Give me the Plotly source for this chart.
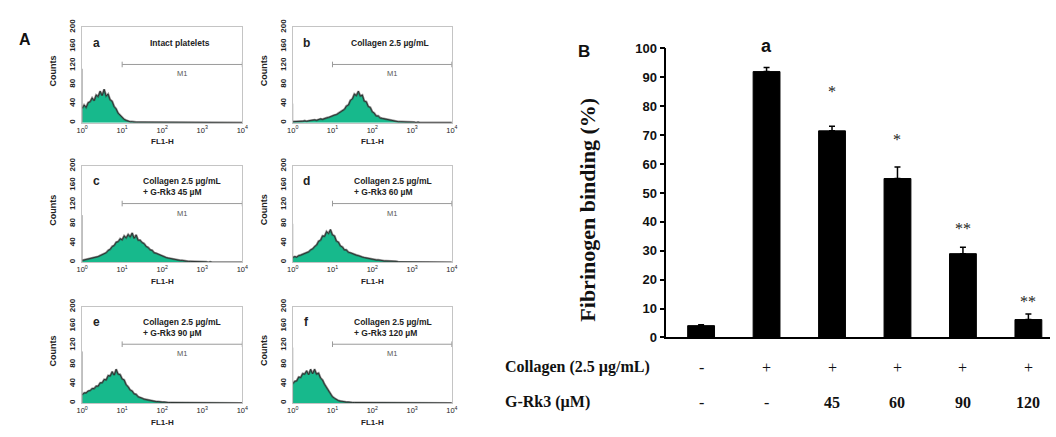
import plotly.graph_objects as go

W, H = 1056, 437

# ---------------- data: flow cytometry histograms (panel A) ----------------
log_channels = [round(i * 0.05, 2) for i in range(81)]  # log10(FL1-H) 0..4

hist_a = [30, 37, 32, 42, 44, 52, 46, 58, 55, 66,
          57, 70, 56, 60, 48, 45, 34, 29, 20, 16,
          10, 7, 5, 3, 2, 2, 1, 1, 1, 1,
          1, 1, 0, 1, 0, 1, 0, 0, 1, 0,
          0, 1, 0, 0, 0, 1, 0, 0, 0, 0,
          1, 0, 0, 0, 0, 0, 1, 0, 0, 0,
          0, 0, 0, 1, 0, 0, 0, 0, 0, 0,
          0, 1, 0, 0, 0, 0, 0, 0, 0, 0, 0]
hist_b = [2, 2, 3, 2, 3, 3, 4, 3, 4, 5,
          5, 6, 5, 7, 8, 7, 9, 10, 11, 13,
          14, 16, 17, 20, 22, 26, 28, 35, 37, 47,
          50, 60, 57, 66, 56, 58, 45, 44, 34, 32,
          23, 20, 14, 14, 10, 9, 8, 7, 6, 5,
          4, 3, 3, 2, 2, 2, 1, 1, 1, 1,
          1, 1, 0, 1, 0, 0, 1, 0, 0, 0,
          0, 0, 1, 0, 0, 0, 0, 0, 0, 0, 0]
hist_c = [4, 5, 6, 6, 7, 8, 9, 10, 12, 14,
          16, 19, 20, 25, 27, 33, 35, 42, 43, 49,
          47, 55, 51, 58, 53, 61, 50, 57, 46, 46,
          41, 39, 33, 31, 26, 25, 20, 19, 17, 15,
          13, 12, 10, 9, 8, 7, 6, 5, 5, 4,
          4, 3, 3, 2, 2, 2, 1, 1, 1, 1,
          1, 1, 1, 0, 1, 0, 0, 1, 0, 0,
          0, 0, 0, 1, 0, 0, 0, 0, 0, 0, 0]
hist_d = [10, 12, 11, 14, 15, 17, 18, 21, 22, 26,
          28, 33, 36, 44, 46, 55, 54, 64, 60, 68,
          57, 55, 44, 42, 34, 32, 26, 26, 21, 20,
          18, 17, 15, 14, 12, 11, 10, 9, 8, 8,
          7, 6, 5, 5, 4, 4, 3, 3, 3, 2,
          2, 2, 2, 1, 1, 1, 1, 1, 1, 0,
          1, 0, 0, 1, 0, 0, 0, 0, 1, 0,
          0, 0, 0, 0, 0, 0, 1, 0, 0, 0, 0]
hist_e = [17, 21, 21, 25, 26, 30, 30, 35, 35, 42,
          42, 49, 48, 57, 56, 65, 58, 70, 60, 59,
          50, 48, 38, 34, 27, 25, 19, 18, 13, 12,
          10, 8, 7, 6, 5, 4, 4, 3, 3, 2,
          2, 2, 1, 1, 1, 1, 1, 1, 0, 1,
          0, 0, 1, 0, 0, 0, 0, 1, 0, 0,
          0, 0, 0, 0, 0, 1, 0, 0, 0, 0,
          0, 0, 0, 0, 0, 0, 0, 0, 0, 0, 0]
hist_f = [40, 45, 46, 54, 53, 61, 60, 67, 59, 70,
          61, 70, 60, 62, 52, 48, 39, 33, 25, 20,
          13, 10, 7, 5, 4, 3, 2, 2, 2, 1,
          1, 1, 1, 1, 0, 1, 0, 1, 0, 0,
          1, 0, 0, 0, 1, 0, 0, 0, 0, 1,
          0, 0, 0, 0, 1, 0, 0, 0, 0, 0,
          1, 0, 0, 0, 0, 0, 0, 1, 0, 0,
          0, 0, 0, 0, 0, 1, 0, 0, 0, 0, 0]
histograms = [hist_a, hist_b, hist_c, hist_d, hist_e, hist_f]
first_channel = [113, 40, 98, 80, 107, 115]

panel_letters = ["a", "b", "c", "d", "e", "f"]
panel_titles = ["Intact platelets",
                "Collagen 2.5 µg/mL",
                "Collagen 2.5 µg/mL<br>+ G-Rk3 45 µM",
                "Collagen 2.5 µg/mL<br>+ G-Rk3 60 µM",
                "Collagen 2.5 µg/mL<br>+ G-Rk3 90 µM",
                "Collagen 2.5 µg/mL<br>+ G-Rk3 120 µM"]
count_ticks = [0, 40, 80, 120, 160, 200]
decade_ticks = [0, 1, 2, 3, 4]
decade_labels = ["10<sup>0</sup>", "10<sup>1</sup>", "10<sup>2</sup>",
                 "10<sup>3</sup>", "10<sup>4</sup>"]
m1_gate = [1.0, 4.0]
m1_level = 122

# ---------------- data: fibrinogen binding (panel B) ----------------
conditions = ["control", "collagen", "G-Rk3 45", "G-Rk3 60", "G-Rk3 90", "G-Rk3 120"]
binding = [4.1, 92.0, 71.5, 55.0, 29.0, 6.2]
binding_err = [0.3, 1.4, 1.6, 4.0, 2.2, 1.9]
significance = ["", "a", "*", "*", "**", "**"]
collagen_signs = ["-", "+", "+", "+", "+", "+"]
grk3_doses = ["-", "-", "45", "60", "90", "120"]
binding_ticks = [0, 10, 20, 30, 40, 50, 60, 70, 80, 90, 100]

# ---------------- layout helpers ----------------
SANS = "Liberation Sans, Arial, sans-serif"
SERIF = "Liberation Serif, Times New Roman, serif"
GREEN = "#17b98c"

cols_px = [(77, 239), (290, 451)]
rows_px = [(20, 119), (164, 264), (310, 410)]


def px_x(x):
    return x / W


def px_y(y):
    return 1 - y / H


def paper_note(xp, yp, text, font, **kw):
    d = dict(xref="paper", yref="paper", x=px_x(xp), y=px_y(yp), text=text,
             showarrow=False, xanchor="center", yanchor="middle", font=font)
    d.update(kw)
    return d


fig = go.Figure()
layout = dict(
    width=W, height=H, margin=dict(l=0, r=0, t=0, b=0),
    paper_bgcolor="white", plot_bgcolor="white", showlegend=False,
)
annotations = []

for i in range(6):
    r, c = divmod(i, 2)
    x0, x1 = cols_px[c]
    y0, y1 = rows_px[r]
    n = i + 1
    xa = "x" if n == 1 else f"x{n}"
    ya = "y" if n == 1 else f"y{n}"
    xkey = "xaxis" if n == 1 else f"xaxis{n}"
    ykey = "yaxis" if n == 1 else f"yaxis{n}"

    layout[xkey] = dict(
        domain=[px_x(x0), px_x(x1)], range=[0, 4], anchor=ya,
        showline=True, mirror=True, linecolor="#c4c4c4", linewidth=1,
        showgrid=False, zeroline=False, ticks="",
        tickvals=decade_ticks, ticktext=decade_labels,
        tickfont=dict(family=SANS, size=7.5, color="#222"),
    )
    layout[ykey] = dict(
        domain=[px_y(y1), px_y(y0)], range=[0, 200], anchor=xa,
        showline=True, mirror=True, linecolor="#c4c4c4", linewidth=1,
        showgrid=False, zeroline=False, ticks="",
        tickvals=count_ticks, ticktext=[f"<b>{v}</b>" for v in count_ticks],
        tickangle=-90, ticklabelstandoff=3,
        tickfont=dict(family=SANS, size=8, color="#222"),
    )

    fig.add_trace(go.Scatter(
        x=log_channels, y=histograms[i], xaxis=xa, yaxis=ya,
        mode="lines", fill="tozeroy", fillcolor=GREEN,
        line=dict(color="rgba(60,60,60,0.55)", width=2.2),
        hoverinfo="skip",
    ))
    fig.add_trace(go.Scatter(
        x=log_channels, y=histograms[i], xaxis=xa, yaxis=ya,
        mode="lines", line=dict(color="#222", width=0.8), hoverinfo="skip",
    ))
    fig.add_trace(go.Scatter(
        x=[0, 0], y=[0, first_channel[i]], xaxis=xa, yaxis=ya,
        mode="lines", line=dict(color="#8a8a8a", width=1), hoverinfo="skip",
    ))
    fig.add_trace(go.Scatter(
        x=m1_gate, y=[m1_level, m1_level], xaxis=xa, yaxis=ya,
        mode="lines+markers", line=dict(color="#9a9a9a", width=1),
        marker=dict(symbol="line-ns", size=4, line=dict(color="#9a9a9a", width=1)),
        cliponaxis=False, hoverinfo="skip",
    ))

    annotations.append(dict(xref=xa, yref=ya, x=2.5, y=102, text="M1",
                            showarrow=False,
                            font=dict(family=SANS, size=7.5, color="#555")))
    annotations.append(dict(xref=xa, yref=ya, x=0.35, y=168,
                            text=f"<b>{panel_letters[i]}</b>", showarrow=False,
                            font=dict(family=SANS, size=12, color="#222")))
    if "<br>" in panel_titles[i]:
        annotations.append(dict(xref=xa, yref=ya, x=1.48, y=157, xanchor="left",
                                yanchor="middle", align="left",
                                text=f"<b>{panel_titles[i]}</b>", showarrow=False,
                                font=dict(family=SANS, size=8.5, color="#222")))
    else:
        annotations.append(dict(xref=xa, yref=ya, x=2.45, y=168,
                                text=f"<b>{panel_titles[i]}</b>", showarrow=False,
                                font=dict(family=SANS, size=8.5, color="#222")))
    annotations.append(paper_note(x0 - 29, (y0 + y1) / 2 - 4, "<b>Counts</b>",
                                  dict(family=SANS, size=9, color="#222"),
                                  textangle=-90))
    annotations.append(paper_note((x0 + x1) / 2, y1 + 20, "<b>FL1-H</b>",
                                  dict(family=SANS, size=8, color="#222")))

annotations.append(paper_note(19, 33, "<b>A</b>",
                              dict(family=SANS, size=16, color="#111")))

# ---------------- panel B bar chart ----------------
bx = list(range(len(conditions)))
layout["xaxis7"] = dict(
    domain=[px_x(668), 1.0], range=[-0.53, 5.33], anchor="y7",
    showline=True, linecolor="black", linewidth=1.5, showgrid=False,
    zeroline=False, showticklabels=False, ticks="",
)
layout["yaxis7"] = dict(
    domain=[px_y(342), px_y(42)], range=[0, 100], anchor="x7",
    showline=True, linecolor="black", linewidth=1.5, showgrid=False,
    zeroline=False, ticks="outside", ticklen=5, tickwidth=1.5, tickcolor="black",
    tickvals=binding_ticks, ticktext=[f"<b>{v}</b>" for v in binding_ticks],
    tickfont=dict(family=SANS, size=13, color="#111"),
)
fig.add_trace(go.Bar(
    x=bx, y=binding, xaxis="x7", yaxis="y7", width=0.41,
    marker=dict(color="black", line=dict(color="black", width=1)),
    error_y=dict(type="data", symmetric=False, array=binding_err,
                 arrayminus=[0] * len(binding), color="black",
                 thickness=1.5, width=3),
    hoverinfo="skip",
))

sig_shift_px = [0, 10, 24, 17, 8, 2]
for i, s in enumerate(significance):
    if not s:
        continue
    top = binding[i] + binding_err[i]
    if s == "a":
        txt, fnt = "<b>a</b>", dict(family=SANS, size=18, color="#111")
    else:
        txt, fnt = s, dict(family=SERIF, size=16, color="#222")
    annotations.append(dict(xref="x7", yref="y7", x=bx[i], y=top, yanchor="bottom",
                            yshift=sig_shift_px[i], text=txt, showarrow=False,
                            font=fnt))

row1_y, row2_y = px_y(373), px_y(409)
annotations.append(paper_note(503, 373, "<b>Collagen (2.5 µg/mL)</b>",
                              dict(family=SERIF, size=16, color="#111"),
                              xanchor="left"))
annotations.append(paper_note(503, 409, "<b>G-Rk3 (µM)</b>",
                              dict(family=SERIF, size=16, color="#111"),
                              xanchor="left"))
for i in bx:
    annotations.append(dict(xref="x7", yref="paper", x=i, y=row1_y,
                            xanchor="center", yanchor="middle",
                            text=collagen_signs[i], showarrow=False,
                            font=dict(family=SERIF, size=16, color="#111")))
    d = grk3_doses[i]
    annotations.append(dict(xref="x7", yref="paper", x=i, y=row2_y,
                            xanchor="center", yanchor="middle",
                            text=d if d == "-" else f"<b>{d}</b>", showarrow=False,
                            font=dict(family=SERIF, size=16, color="#111")))

annotations.append(paper_note(588, 209, "<b>Fibrinogen binding (%)</b>",
                              dict(family=SERIF, size=22, color="#111"),
                              textangle=-90))
annotations.append(paper_note(585, 45, "<b>B</b>",
                              dict(family=SANS, size=17, color="#111")))

layout["annotations"] = annotations
fig.update_layout(**layout)
fig.write_html("out.html")
